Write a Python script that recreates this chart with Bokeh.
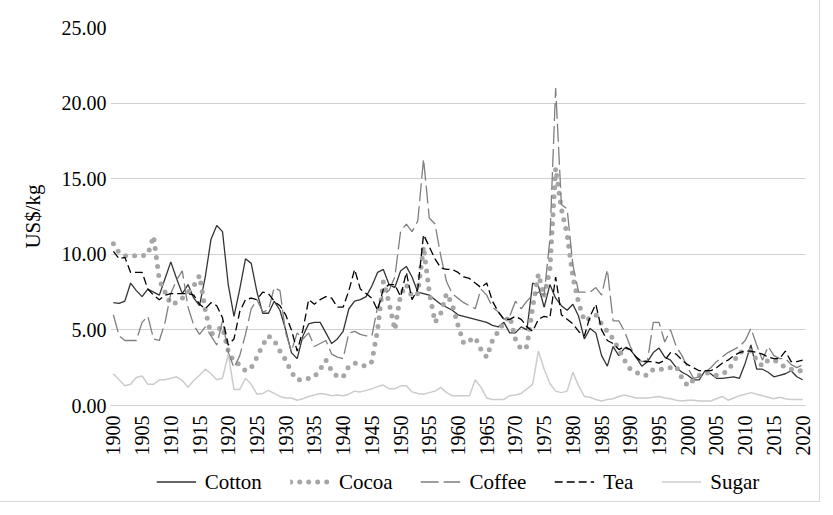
import math
from bokeh.plotting import figure
from bokeh.layouts import column
from bokeh.models import Range1d, FixedTicker, NumeralTickFormatter, Legend, LegendItem, ColumnDataSource
from bokeh.embed import file_html
from bokeh.resources import INLINE

years = list(range(1900, 2021))

cotton = [
    6.8, 6.75, 6.9, 8.1, 7.6, 7.2, 7.7, 7.5, 7.3, 8.4,
    9.5, 8.4, 7.4, 8.0, 7.1, 6.6, 8.5, 11.0, 11.9, 11.5,
    8.0, 5.9, 7.7, 9.7, 9.4, 7.5, 6.1, 6.1, 6.9, 6.3,
    5.0, 3.5, 3.1, 4.6, 5.4, 5.5, 5.5, 4.8, 4.1, 4.4,
    4.9, 6.4, 6.9, 7.0, 7.2, 7.9, 8.8, 9.0, 8.0, 7.8,
    8.9, 9.2, 8.5, 7.5, 7.4, 7.3, 7.0, 6.7, 6.5, 6.3,
    6.0, 5.9, 5.8, 5.7, 5.6, 5.5, 5.3, 5.2, 5.5, 4.8,
    4.8, 5.2, 5.0, 8.1, 7.9, 6.5, 8.0, 7.1, 6.6, 6.3,
    6.7, 5.9, 4.4, 5.1, 4.8, 3.3, 2.6, 3.9, 3.3, 3.8,
    3.7, 3.2, 2.6, 2.9, 3.5, 3.8, 3.2, 3.0, 2.5, 2.2,
    2.0, 1.7, 1.7, 2.3, 2.1, 1.8, 1.8, 1.85, 1.9, 1.8,
    2.8, 4.0, 2.4, 2.4, 2.2, 1.9, 2.0, 2.1, 2.3, 1.9,
    1.7,
]

cocoa = [
    10.7, 10.1, 9.9, 9.9, 9.9, 9.9, 10.0, 11.2, 8.3, 7.5,
    6.7, 6.8, 7.1, 7.5, 7.9, 8.6, 6.3, 4.7, 5.0, 5.2,
    3.6, 2.9, 2.7, 2.3, 2.5, 3.2, 4.0, 4.6, 4.3, 3.6,
    3.0, 2.2, 1.7, 1.7, 1.8, 1.9, 2.4, 3.0, 2.3, 1.9,
    1.9, 2.6, 2.8, 2.7, 2.6, 2.9, 5.0, 8.2, 6.8, 5.0,
    7.3, 8.0, 7.2, 7.4, 10.5, 7.5, 5.5, 6.1, 7.4, 6.7,
    5.3, 4.1, 4.3, 4.5, 3.7, 3.2, 4.3, 4.9, 5.5, 5.9,
    4.4, 3.7, 3.9, 6.5, 8.7, 7.2, 9.0, 15.7, 13.0, 11.3,
    8.5, 6.8, 5.6, 5.8, 6.0, 5.4, 4.9, 4.4, 3.7, 3.0,
    2.4, 2.2, 2.0, 2.0, 2.4, 2.4, 2.4, 2.5, 2.6, 1.8,
    1.3, 1.7, 2.0, 2.2, 2.1, 2.0, 2.1, 2.3, 2.9, 3.5,
    3.6, 3.6, 3.0, 2.6, 3.0, 3.0, 2.8, 2.5, 2.4, 2.3,
    2.3,
]

coffee = [
    6.0, 4.6, 4.3, 4.3, 4.3, 5.5, 5.9, 4.4, 4.3, 5.5,
    7.4, 8.3, 8.9, 6.5, 5.3, 4.7, 5.2, 4.6, 4.0, 5.6,
    3.5, 2.5, 3.3, 4.7, 6.4, 7.0, 6.2, 6.3, 7.8, 7.6,
    4.8, 3.6, 4.8, 4.4, 4.8, 3.9, 4.1, 4.3, 3.4, 3.2,
    3.1, 4.8, 4.9, 4.7, 4.6, 4.6, 6.5, 7.3, 7.6, 8.5,
    11.5, 12.0, 11.5, 12.2, 16.3, 12.4, 12.0, 9.9, 8.2, 7.4,
    7.1, 6.8, 6.6, 6.4, 7.7, 7.3, 6.5, 6.2, 5.7, 5.9,
    6.9, 6.4, 6.9, 7.3, 7.5, 7.3, 11.0, 21.0, 13.3, 13.0,
    9.3, 7.5, 7.5, 7.5, 7.8, 7.3, 9.0, 5.6, 5.6, 4.9,
    3.9, 3.2, 2.9, 3.0, 5.5, 5.5, 4.2, 5.0, 3.9, 3.3,
    2.5, 1.8, 1.9, 2.2, 2.5, 2.9, 3.2, 3.5, 3.7, 3.9,
    4.3, 5.1, 4.0, 3.0, 3.9, 3.3, 3.1, 3.1, 2.7, 2.5,
    2.7,
]

tea = [
    10.2, 9.7, 9.8, 8.8, 8.8, 8.8, 7.7, 7.3, 7.0, 7.3,
    7.4, 7.4, 7.4, 7.4, 7.3, 6.7, 6.4, 6.8, 6.6, 5.8,
    4.0, 4.4, 6.2, 7.0, 7.1, 7.0, 7.5, 7.4, 6.9, 6.6,
    6.0, 5.0, 3.6, 5.0, 7.0, 6.7, 7.0, 7.2, 7.1, 6.5,
    6.5, 7.6, 9.0, 7.7, 7.4, 7.1, 6.3, 7.7, 8.0, 8.0,
    7.2, 8.8, 7.0, 7.7, 11.3, 10.5, 9.7, 9.1, 9.0, 9.0,
    8.8, 8.5, 8.4, 8.1, 7.8, 8.1, 6.9, 6.2, 5.7, 5.7,
    5.9, 5.7, 5.2, 4.9, 5.7, 5.9, 5.8, 8.5, 6.0, 5.7,
    5.4, 4.9, 4.6, 5.9, 6.7, 5.0, 4.3, 4.1, 3.7, 3.9,
    3.7, 3.2, 2.9, 2.9, 2.9, 2.8, 3.0, 3.5, 3.4, 3.0,
    2.7, 2.5, 2.3, 2.3, 2.3, 2.5, 2.8, 3.0, 3.3, 3.5,
    3.6, 3.6, 3.5, 3.4, 3.2, 3.1, 3.1, 3.6, 2.9, 2.9,
    3.0,
]

sugar = [
    2.1, 1.7, 1.3, 1.4, 1.85, 1.95, 1.4, 1.4, 1.7, 1.7,
    1.8, 1.9, 1.65, 1.2, 1.65, 2.0, 2.4, 2.1, 1.7, 1.8,
    3.4, 1.05, 1.05, 1.8, 1.4, 0.75, 0.8, 1.0, 0.8, 0.6,
    0.5, 0.5, 0.35, 0.45, 0.6, 0.7, 0.8, 0.75, 0.65, 0.7,
    0.65, 0.75, 0.95, 0.9, 1.0, 1.1, 1.25, 1.35, 1.1, 1.1,
    1.3, 1.3, 0.9, 0.8, 0.75, 0.85, 0.95, 1.2, 0.85, 0.65,
    0.65, 0.65, 0.65, 1.7, 1.2, 0.5, 0.4, 0.4, 0.4, 0.65,
    0.7, 0.8, 1.1, 1.4, 3.6, 2.4, 1.45, 0.95, 0.85, 0.95,
    2.2, 1.3, 0.6, 0.55, 0.4, 0.3, 0.4, 0.45, 0.6, 0.7,
    0.6, 0.5, 0.5, 0.5, 0.55, 0.6, 0.5, 0.45, 0.35, 0.3,
    0.35, 0.35, 0.3, 0.3, 0.3, 0.45, 0.6, 0.35, 0.5, 0.65,
    0.75, 0.85, 0.75, 0.65, 0.55, 0.45, 0.55, 0.45, 0.4, 0.4,
    0.4,
]

series_names = ["Cotton", "Cocoa", "Coffee", "Tea", "Sugar"]
y_ticks = [0, 5, 10, 15, 20, 25]
x_ticks = list(range(1900, 2021, 5))

FONT = "Liberation Serif"

STYLES = {
    "Cotton": dict(line_color="#333333", line_width=1.3),
    "Cocoa": dict(line_color="#a6a6a6", line_width=5, line_dash="0 9", line_cap="round"),
    "Coffee": dict(line_color="#7f7f7f", line_width=1.3, line_dash="18 5"),
    "Tea": dict(line_color="#000000", line_width=1.3, line_dash="8 4"),
    "Sugar": dict(line_color="#cccccc", line_width=1.5),
}

src = ColumnDataSource(dict(year=years, Cotton=cotton, Cocoa=cocoa,
                            Coffee=coffee, Tea=tea, Sugar=sugar))

p = figure(width=817, height=458, output_backend="svg", toolbar_location=None,
           x_range=Range1d(1899.5, 2020.5), y_range=Range1d(0, 25),
           min_border_left=110, min_border_right=12, min_border_top=27, min_border_bottom=53)
p.outline_line_color = None
p.background_fill_color = "white"
p.border_fill_color = "white"

for name in series_names:
    p.line("year", name, source=src, **STYLES[name])

# axes
p.xaxis.ticker = FixedTicker(ticks=x_ticks)
p.xaxis.major_label_orientation = math.pi / 2
p.xaxis.major_tick_line_color = None
p.xaxis.major_tick_out = 0
p.xaxis.major_tick_in = 0
p.xaxis.minor_tick_line_color = None
p.xaxis.minor_tick_out = 0
p.xaxis.axis_line_color = "#d0d0d0"
p.xaxis.major_label_standoff = 10
p.xaxis.major_label_text_font = FONT
p.xaxis.major_label_text_font_size = "20px"
p.xaxis.major_label_text_color = "#000000"

p.yaxis.ticker = FixedTicker(ticks=y_ticks)
p.yaxis.formatter = NumeralTickFormatter(format="0.00")
p.yaxis.major_tick_line_color = None
p.yaxis.major_tick_out = 0
p.yaxis.major_tick_in = 0
p.yaxis.minor_tick_line_color = None
p.yaxis.minor_tick_out = 0
p.yaxis.axis_line_color = None
p.yaxis.major_label_standoff = 4
p.yaxis.major_label_text_font = FONT
p.yaxis.major_label_text_font_size = "20px"
p.yaxis.major_label_text_color = "#000000"
p.yaxis.axis_label = "US$/kg"
p.yaxis.axis_label_text_font = FONT
p.yaxis.axis_label_text_font_size = "21px"
p.yaxis.axis_label_text_font_style = "normal"
p.yaxis.axis_label_text_color = "#000000"
p.yaxis.axis_label_standoff = 14

p.xgrid.grid_line_color = None
p.ygrid.grid_line_color = "#d0d0d0"
p.ygrid.grid_line_width = 1

# legend strip below the chart (same series, ranges keep the lines out of view)
lg = figure(width=817, height=41, output_backend="svg", toolbar_location=None,
            x_range=Range1d(0, 1), y_range=Range1d(-100, -99),
            x_axis_type=None, y_axis_type=None,
            min_border_left=110, min_border_right=0, min_border_top=6, min_border_bottom=0)
lg.outline_line_color = None
lg.xgrid.grid_line_color = None
lg.ygrid.grid_line_color = None
lg.background_fill_color = "white"
lg.border_fill_color = "white"

items = []
for name in series_names:
    r = lg.line("year", name, source=src, **STYLES[name])
    items.append(LegendItem(label=name, renderers=[r]))

legend = Legend(items=items, orientation="horizontal", location="center")
legend.background_fill_alpha = 0
legend.border_line_color = None
legend.padding = 0
legend.margin = 0
legend.spacing = 28
legend.glyph_width = 40
legend.glyph_height = 20
legend.label_standoff = 9
legend.label_text_font = FONT
legend.label_text_font_size = "21px"
legend.label_text_color = "#000000"
legend.label_height = 20
lg.add_layout(legend, "center")

layout = column(p, lg, spacing=0)
layout.styles = {"outline": "1px solid #d9d9d9", "outline-offset": "2px"}

open("out.html", "w").write(file_html(layout, INLINE))
